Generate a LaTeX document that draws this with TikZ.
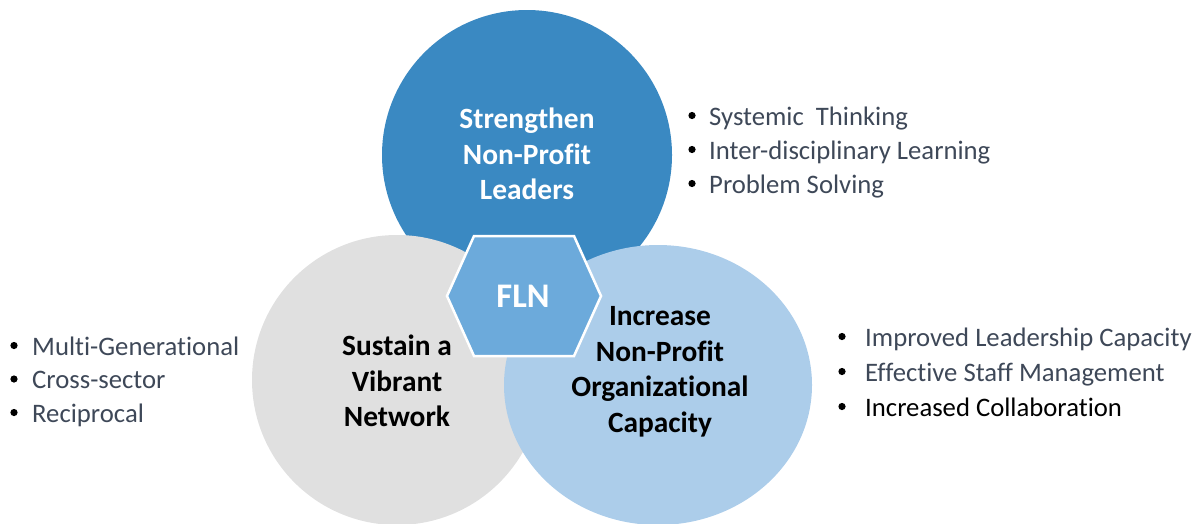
\documentclass[tikz,border=0pt]{standalone}
\usepackage{fontspec}
\setmainfont{Carlito}[Ligatures={TeX,NoCommon}]
\usetikzlibrary{shapes.geometric}

\definecolor{leadblue}{HTML}{3A89C2}
\definecolor{netgray}{HTML}{E0E0E0}
\definecolor{orgblue}{HTML}{ACCDEA}
\definecolor{hexblue}{HTML}{6CAADB}
\definecolor{slate}{HTML}{3E4858}

\begin{document}
\begin{tikzpicture}[x=1pt, y=-1pt,
  disc/.style={circle, draw=none, inner sep=0pt},
  title/.style={font=\bfseries\fontsize{29.4}{35.5}\selectfont, align=center, inner sep=0pt},
  item/.style={font=\fontsize{26.7}{34}\selectfont, text=slate, anchor=base west, inner sep=0pt},
  bullet/.style={circle, fill=black, inner sep=0pt, minimum size=7.2pt}
]
\useasboundingbox (0,0) rectangle (1196,523);

% three overlapping goal areas
\node[disc, fill=leadblue, minimum size=290pt] (lead) at (527,155) {};
\node[disc, fill=netgray, minimum size=290pt] (net) at (397,380) {};
\node[ellipse, draw=none, inner sep=0pt, fill=orgblue,
      minimum width=308pt, minimum height=280pt] (org) at (658,385) {};

\node[title, text=white] (leadtxt) at (527,154) {Strengthen\\Non-Profit\\Leaders};
\node[title, text=black] (nettxt) at (397,381) {Sustain a\\Vibrant\\Network};
\node[title, text=black] (orgtxt) at (660,372) {Increase\\Non-Profit\\Organizational\\Capacity};

% central hexagon
\coordinate (hc) at (524,296);
\fill[hexblue, draw=white, line width=2.5pt, line join=miter]
  ([shift={(-50,-60)}]hc) -- ([shift={(50,-60)}]hc) -- ([shift={(77,0)}]hc)
  -- ([shift={(50,60)}]hc) -- ([shift={(-50,60)}]hc) -- ([shift={(-77,0)}]hc) -- cycle;
\node[font=\bfseries\fontsize{34.5}{40}\selectfont, text=white, inner sep=0pt] (fln) at (523,296) {FLN};

% leader skills
\node[bullet] (b1) at (692,115.5) {};
\node[item] (t1) at (709,125) {Systemic\ \ Thinking};
\node[bullet] (b2) at (692,149.5) {};
\node[item] (t2) at (709,159) {Inter-disciplinary Learning};
\node[bullet] (b3) at (692,183.5) {};
\node[item] (t3) at (709,193) {Problem Solving};

% network qualities
\node[bullet] (b4) at (14,345.5) {};
\node[item] (t4) at (32,355) {Multi-Generational};
\node[bullet] (b5) at (14,379) {};
\node[item] (t5) at (32,388.5) {Cross-sector};
\node[bullet] (b6) at (14,412.5) {};
\node[item] (t6) at (32,422) {Reciprocal};

% organizational outcomes
\node[bullet] (b7) at (842,336.5) {};
\node[item] (t7) at (865,346) {Improved Leadership Capacity};
\node[bullet] (b8) at (842,371.5) {};
\node[item] (t8) at (865,381) {Effective Staff Management};
\node[bullet] (b9) at (842,406.5) {};
\node[item, text=black] (t9) at (865,416) {Increased Collaboration};
\end{tikzpicture}
\end{document}
